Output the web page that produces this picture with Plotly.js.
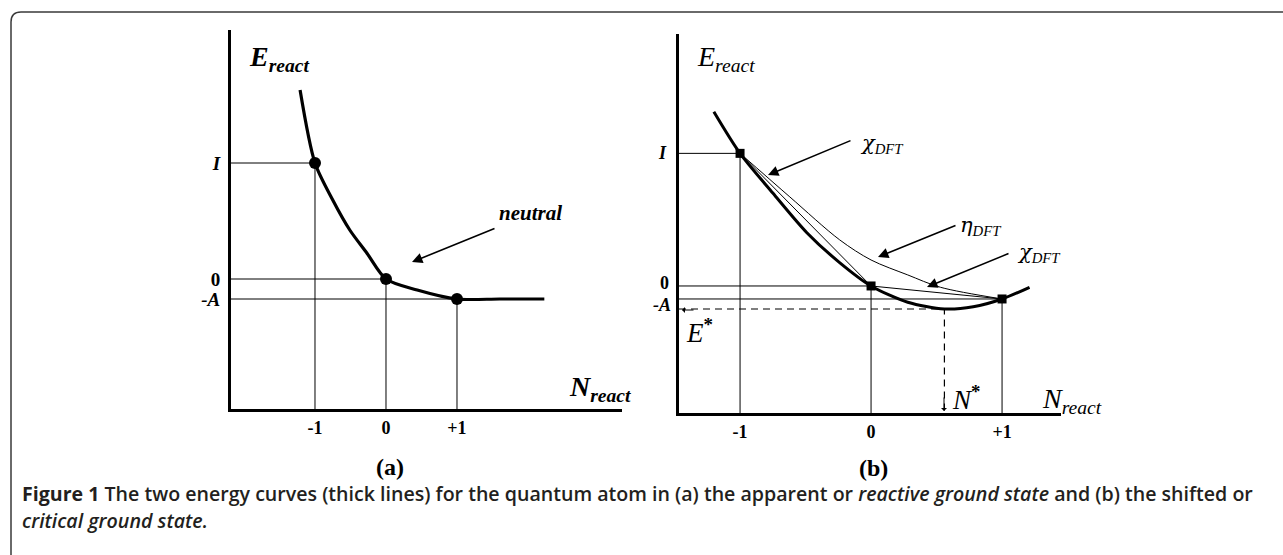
<!DOCTYPE html>
<html>
<head>
<meta charset="utf-8">
<script src="https://cdn.plot.ly/plotly-3.0.1.min.js"></script>
<style>
  html, body { margin:0; padding:0; background:#fff; }
  #chart { width:1283px; height:555px; }
</style>
</head>
<body>
<div id="chart"></div>
<script>

/* ==========================================
   DATA  (energy in units of A, N in electrons)
========================================== */

// panel (a) - reactive ground state
const aPointN = [-1, 0, 1];
const aPointE = [5.8, 0, -1];              // I, 0, -A
const aCurveN = [-1.21, -1, -0.75, -0.51, -0.27, 0, 0.44, 1, 1.6, 2.23];
const aCurveE = [9.45, 5.8, 3.95, 2.45, 1.3, 0, -0.55, -1, -1, -1];

// panel (b) - critical ground state
const bPointN = [-1, 0, 1];
const bPointE = [10.2, 0, -1];             // I, 0, -A
const bCurveN = [-1.2, -1, -0.75, -0.49, -0.24, 0, 0.28, 0.56, 0.78, 1, 1.21];
const bCurveE = [13.4, 10.2, 7.15, 4.1, 1.8, 0, -1.25, -1.77, -1.6, -1, -0.1];
const bEtaN = [-1, -0.62, -0.24, 0, 0.28, 0.53, 1];
const bEtaE = [10.2, 6.85, 3.55, 2.0, 0.85, -0.1, -1];
const bStarN = 0.56;                       // N*
const bStarE = -1.77;                      // E*

// tick labels
const nTickText = ["-1", "0", "+1"];
const eTickText = ["<i>I</i>", "0", "<i>-A</i>"];

const caption1 = "<b>Figure 1</b> The two energy curves (thick lines) for the quantum atom in (a) the apparent or <i>reactive ground state</i> and (b) the shifted or";
const caption2 = "<i>critical ground state.</i>";


/* ==========================================
   HELPERS
========================================== */

const W = 1283, H = 555;
const SERIF = "Liberation Serif, Times New Roman, serif";

function px(x){ return x / W; }
function py(y){ return 1 - y / H; }

// thin guide lines from the axes to each point
function guideLines(ns, es, xmin, ymin){
    let x = [], y = [];
    ns.forEach((n, i)=>{
        x.push(xmin, n, n, null);
        y.push(es[i], es[i], ymin, null);
    });
    return {x:x, y:y};
}

function label(x, y, text, size, opts){
    return Object.assign({
        xref:"paper", yref:"paper",
        x:px(x), y:py(y),
        text:text, showarrow:false,
        xanchor:"center", yanchor:"middle",
        font:{family:SERIF, size:size, color:"#000"}
    }, opts || {});
}

// greek letter in DejaVu Serif, subscript in Times-like serif
function greek(x, y, letter){
    return label(x, y,
        "<i>" + letter + "</i><sub><span style=\"font-family:Liberation Serif\"><i>DFT</i></span></sub>",
        21, {xanchor:"left", font:{family:"DejaVu Serif", size:21, color:"#000"}});
}

function arrow(hx, hy, tx, ty, opts){
    return Object.assign({
        xref:"paper", yref:"paper",
        x:px(hx), y:py(hy),
        ax:tx - hx, ay:ty - hy,
        axref:"pixel", ayref:"pixel",
        text:"", showarrow:true,
        arrowhead:2, arrowsize:1.3, arrowwidth:1.6,
        arrowcolor:"#000", standoff:0
    }, opts || {});
}


/* ==========================================
   AXIS RANGES
========================================== */

const aX = [-2.183, 3.324], aY = [-6.5, 12.45];
const bX = [-1.466, 1.450], bY = [-9.77, 19.38];


/* ==========================================
   TRACES
========================================== */

const aGuide = guideLines(aPointN, aPointE, aX[0], aY[0]);
const bGuide = guideLines(bPointN, bPointE, bX[0], bY[0]);

const traces = [

    // ---- panel (a)
    {x:aGuide.x, y:aGuide.y, xaxis:"x", yaxis:"y", mode:"lines",
     line:{color:"#000", width:1}, hoverinfo:"skip"},

    {x:aCurveN, y:aCurveE, xaxis:"x", yaxis:"y", mode:"lines",
     line:{color:"#000", width:3.2, shape:"spline", smoothing:0.8}},

    {x:aPointN, y:aPointE, xaxis:"x", yaxis:"y", mode:"markers",
     marker:{color:"#000", size:12, symbol:"circle"}},

    // ---- panel (b)
    {x:bGuide.x, y:bGuide.y, xaxis:"x2", yaxis:"y2", mode:"lines",
     line:{color:"#000", width:1}, hoverinfo:"skip"},

    // chi chords
    {x:bPointN, y:bPointE, xaxis:"x2", yaxis:"y2", mode:"lines",
     line:{color:"#000", width:1}},

    // eta curve
    {x:bEtaN, y:bEtaE, xaxis:"x2", yaxis:"y2", mode:"lines",
     line:{color:"#000", width:1, shape:"spline", smoothing:0.9}},

    {x:bCurveN, y:bCurveE, xaxis:"x2", yaxis:"y2", mode:"lines",
     line:{color:"#000", width:3, shape:"spline", smoothing:0.8}},

    // E*, N* dashed
    {x:[bX[0], bStarN, bStarN], y:[bStarE, bStarE, bY[0]], xaxis:"x2", yaxis:"y2",
     mode:"lines", line:{color:"#000", width:1.2, dash:"7px,5px"}},

    {x:bPointN, y:bPointE, xaxis:"x2", yaxis:"y2", mode:"markers",
     marker:{color:"#000", size:9, symbol:"square"}}
];


/* ==========================================
   LAYOUT
========================================== */

function axisX(domain, range, anchor){
    return {
        domain:domain, range:range, anchor:anchor,
        showgrid:false, zeroline:false,
        showline:true, linecolor:"#000", linewidth:3, ticks:"",
        tickvals:[-1, 0, 1], ticktext:nTickText, ticklabelstandoff:0,
        tickfont:{family:SERIF, size:18, color:"#000", weight:"bold"},
        fixedrange:true
    };
}

function axisY(domain, range, vals, anchor, labels){
    return {
        domain:domain, range:range, anchor:anchor,
        showgrid:false, zeroline:false,
        showline:true, linecolor:"#000", linewidth:3, ticks:"",
        tickvals:vals, ticktext:labels, ticklabelstandoff:4,
        showticklabels:labels !== null,
        tickfont:{family:SERIF, size:19, color:"#000", weight:"bold"},
        fixedrange:true
    };
}

const frameL = 11, frameT = 12, r = 10;
const framePath =
    "M " + px(frameL) + "," + py(H + 5) +
    " L " + px(frameL) + "," + py(frameT + r) +
    " Q " + px(frameL) + "," + py(frameT) + " " + px(frameL + r) + "," + py(frameT) +
    " L " + px(W + 5) + "," + py(frameT);

const bold = {family:SERIF, size:18, color:"#000", weight:"bold"};

const layout = {
    width:W, height:H,
    margin:{l:0, r:0, t:0, b:0},
    paper_bgcolor:"#fff", plot_bgcolor:"rgba(0,0,0,0)",
    showlegend:false,
    xaxis:axisX([px(231), px(622)], aX, "y"),
    yaxis:axisY([py(409), py(30)], aY, aPointE, "x", eTickText),
    xaxis2:axisX([px(679), px(1061)], bX, "y2"),
    yaxis2:axisY([py(413), py(34)], bY, bPointE, "x2", null),
    shapes:[
        {type:"path", xref:"paper", yref:"paper", path:framePath,
         line:{color:"#3a3a3a", width:1.5}, fillcolor:"rgba(0,0,0,0)"}
    ],
    annotations:[
        // panel (a)
        label(247, 58, "<b><i>E</i></b><sub><b><i>react</i></b></sub>", 28, {xanchor:"left"}),
        label(567, 388, "<b><i>N</i></b><sub><b><i>react</i></b></sub>", 28, {xanchor:"left"}),
        label(530, 213, "<b><i>neutral</i></b>", 21),
        arrow(412, 262, 496, 228),
        label(390, 467, "<b>(a)</b>", 24),

        // panel (b) energy labels, packed tighter than the axis would place them
        label(669, 153, eTickText[0], 18, {xanchor:"right", font:bold}),
        label(671, 283, eTickText[1], 18, {xanchor:"right", font:bold}),
        label(673, 305, eTickText[2], 18, {xanchor:"right", font:bold}),

        label(695, 58, "<i>E</i><sub><i>react</i></sub>", 28, {xanchor:"left"}),
        label(1040, 400, "<i>N</i><sub><i>react</i></sub>", 28, {xanchor:"left"}),
        label(950, 398, "<i>N</i><sup><b>*</b></sup>", 27, {xanchor:"left"}),
        label(684, 331, "<i>E</i><sup><b>*</b></sup>", 27, {xanchor:"left"}),
        greek(858, 144, "χ"),
        arrow(768, 175, 852, 140),
        greek(958, 226, "η"),
        arrow(878, 257, 957, 225),
        greek(1015, 253, "χ"),
        arrow(927, 287, 1010, 253),
        arrow(682, 310, 695, 310, {arrowhead:1, arrowsize:1, arrowwidth:1}),
        arrow(944, 411, 944, 396, {arrowhead:1, arrowsize:1, arrowwidth:1}),
        label(873, 468, "<b>(b)</b>", 24),

        // caption
        {xref:"paper", yref:"paper", x:px(20), y:py(493), text:caption1,
         showarrow:false, xanchor:"left", yanchor:"middle",
         font:{family:"Open Sans", size:19.6, color:"#231f20", weight:600}},
        {xref:"paper", yref:"paper", x:px(20), y:py(520), text:caption2,
         showarrow:false, xanchor:"left", yanchor:"middle",
         font:{family:"Open Sans", size:19.6, color:"#231f20", weight:600}}
    ]
};

Plotly.newPlot("chart", traces, layout, {displayModeBar:false, staticPlot:true});

</script>
</body>
</html>
